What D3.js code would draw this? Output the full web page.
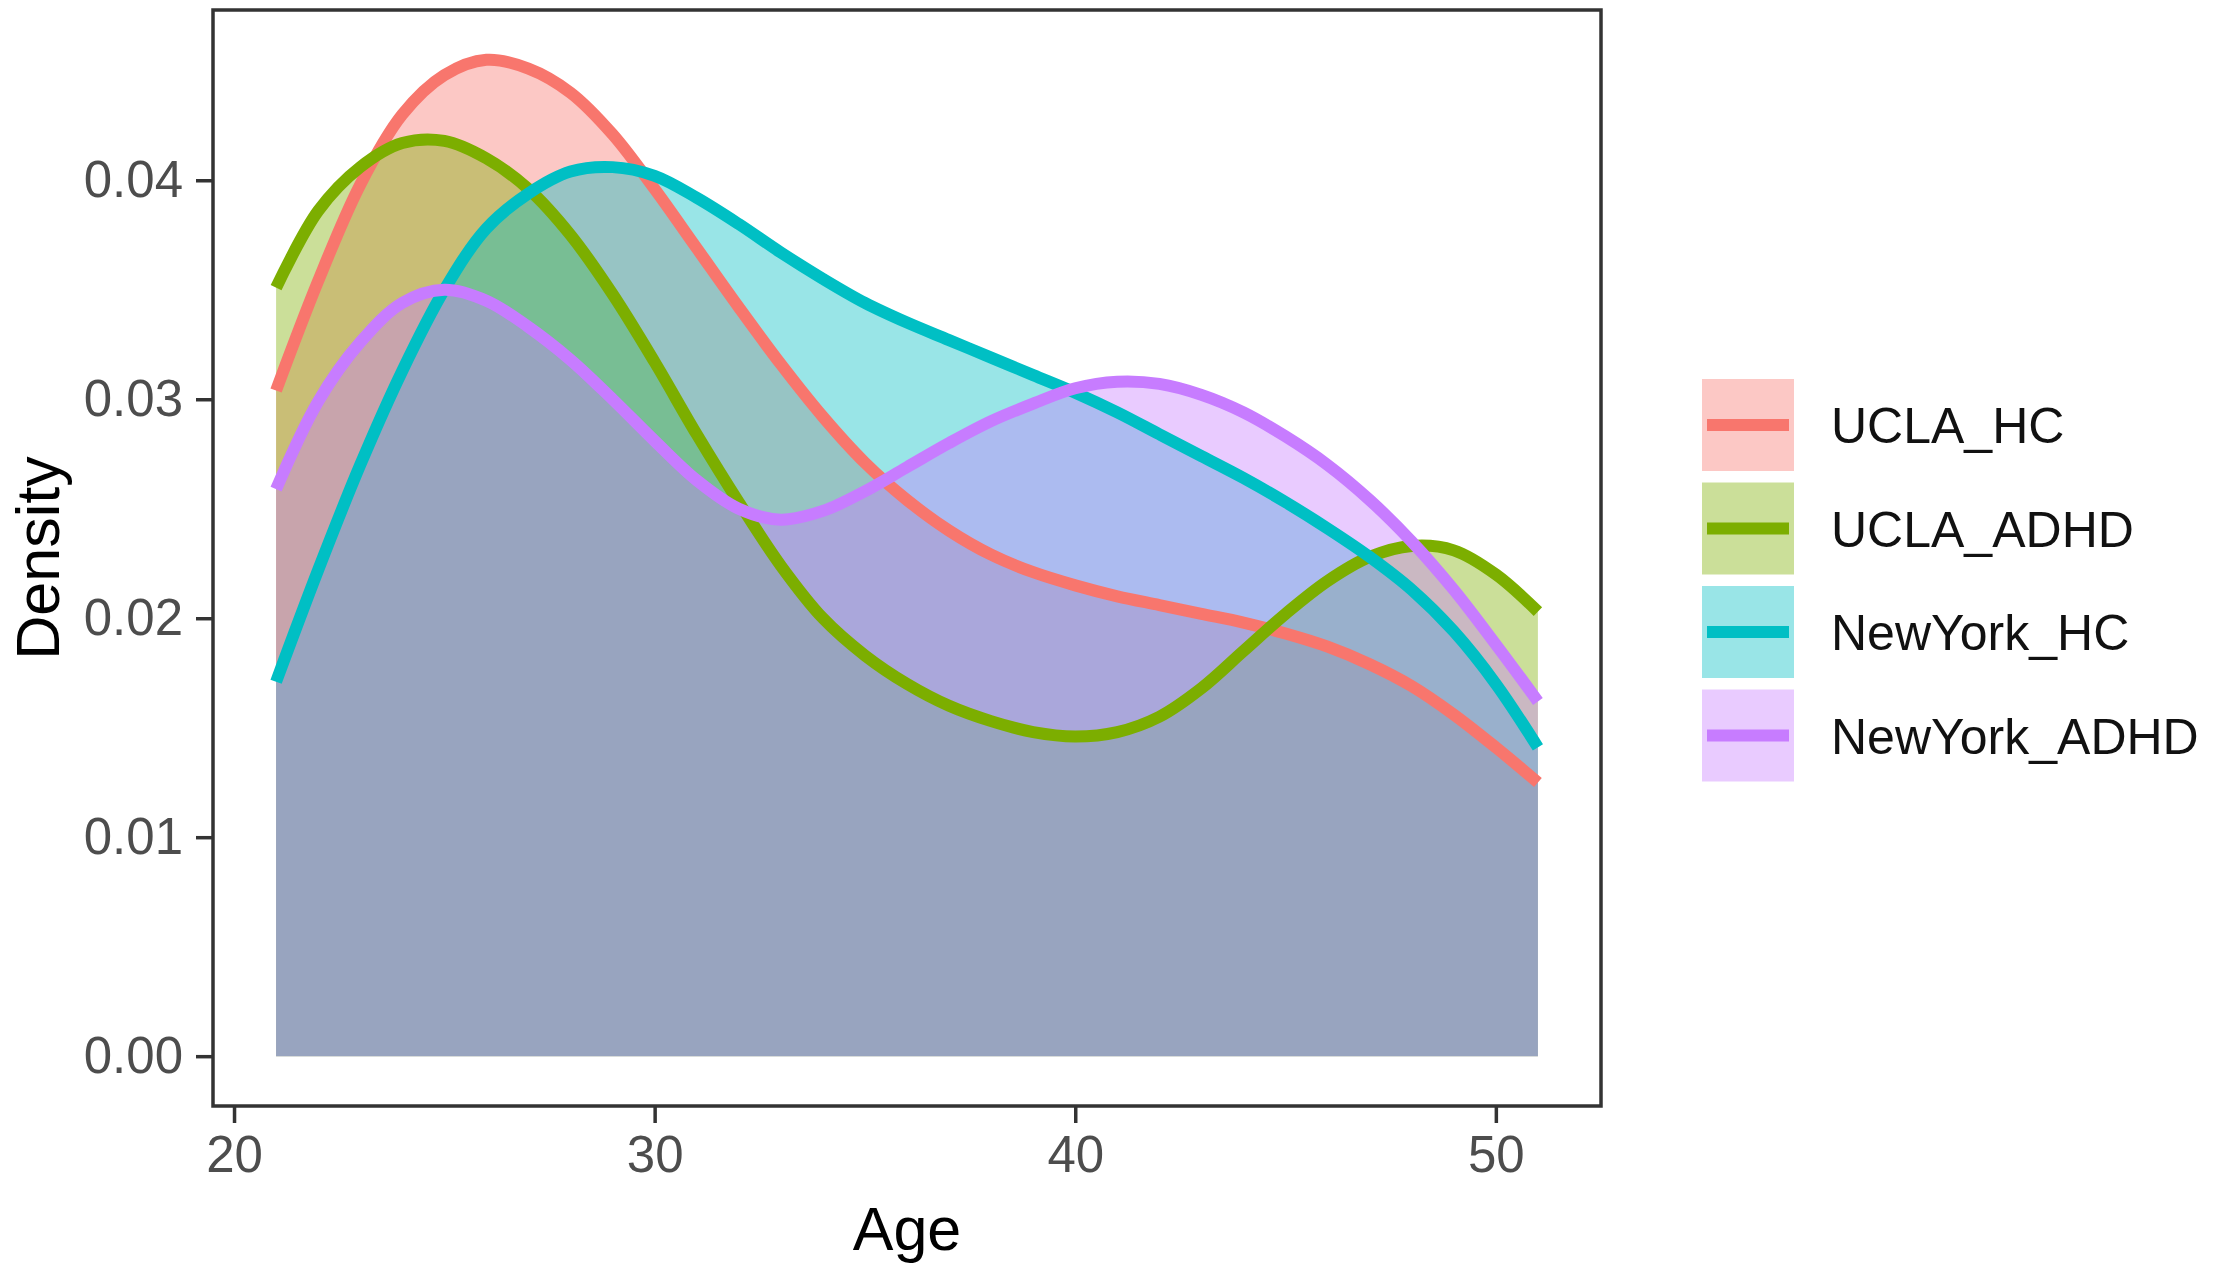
<!DOCTYPE html>
<html>
<head>
<meta charset="utf-8">
<script src="https://cdn.jsdelivr.net/npm/d3@7"></script>
<style>
	body { margin: 0; background: #ffffff; }
	text { font-family: "Liberation Sans", Arial, Helvetica, sans-serif; }
</style>
</head>
<body>
<div id="chart"></div>
<script>
var ages = d3.range(21, 52);

var groupNames = ['UCLA_HC', 'UCLA_ADHD', 'NewYork_HC', 'NewYork_ADHD'];
var groupColors = ['#F8766D', '#7CAE00', '#00BFC4', '#C77CFF'];

var uclaHC = [0.0304, 0.0354, 0.0398, 0.0430, 0.0448, 0.0455, 0.0451, 0.0440, 0.0421, 0.0396,
	0.0369, 0.0342, 0.0316, 0.0292, 0.0271, 0.0254, 0.0240, 0.0229, 0.0221, 0.0215,
	0.0210, 0.0206, 0.0202, 0.0198, 0.0193, 0.0187, 0.0179, 0.0169, 0.0156, 0.0141, 0.0125];
var uclaADHD = [0.0351, 0.0386, 0.0406, 0.0417, 0.0418, 0.0410, 0.0396, 0.0375, 0.0348, 0.0317,
	0.0284, 0.0253, 0.0224, 0.0200, 0.0183, 0.0170, 0.0160, 0.0153, 0.0148, 0.0146,
	0.0148, 0.0155, 0.0168, 0.0185, 0.0202, 0.0217, 0.0228, 0.0233, 0.0231, 0.0220, 0.0203];
var newYorkHC = [0.0171, 0.0222, 0.0270, 0.0313, 0.0350, 0.0378, 0.0394, 0.0404, 0.0406, 0.0402,
	0.0392, 0.0380, 0.0367, 0.0355, 0.0344, 0.0335, 0.0327, 0.0319, 0.0311, 0.0303,
	0.0294, 0.0284, 0.0274, 0.0264, 0.0253, 0.0241, 0.0228, 0.0213, 0.0194, 0.0170, 0.0141];
var newYorkADHD = [0.0259, 0.0299, 0.0326, 0.0344, 0.0350, 0.0345, 0.0333, 0.0318, 0.0300, 0.0281,
	0.0263, 0.0250, 0.0245, 0.0249, 0.0258, 0.0269, 0.0280, 0.0290, 0.0298, 0.0305,
	0.0308, 0.0307, 0.0302, 0.0294, 0.0283, 0.0270, 0.0254, 0.0235, 0.0213, 0.0188, 0.0162];

var xTicks = [20, 30, 40, 50];
var yTicks = [0.00, 0.01, 0.02, 0.03, 0.04];

var params = {};

function defineParams(){
	params.width = 2217;
	params.height = 1276;
	params.panel = {left: 213, top: 10, width: 1388, height: 1096};
	params.fillOpacity = 0.4;
	params.lineWidth = 12;
	params.tickLength = 17;
	params.tickColor = '#333333';
	params.labelColor = '#4D4D4D';
	params.legend = {x: 1702, y: 379, key: 92, step: 103.5, textX: 1831};

	params.series = [uclaHC, uclaADHD, newYorkHC, newYorkADHD].map(function(vals, i){
		return {
			name: groupNames[i],
			color: groupColors[i],
			values: ages.map(function(a, j){ return {age: a, density: vals[j]}; })
		};
	});
}

function createChart(){
	var p = params.panel;

	params.svg = d3.select('#chart')
		.append('svg')
			.attr('width', params.width)
			.attr('height', params.height)
			.style('display', 'block');

	params.svg.append('rect')
		.attr('width', params.width)
		.attr('height', params.height)
		.attr('fill', '#ffffff');

	// ggplot style 5% expansion on both axes
	params.xScale = d3.scaleLinear()
		.domain([19.5, 52.5])
		.range([p.left, p.left + p.width]);
	params.yScale = d3.scaleLinear()
		.domain([-0.002275, 0.047775])
		.range([p.top + p.height, p.top]);

	var area = d3.area()
		.x(function(d){ return params.xScale(d.age); })
		.y0(params.yScale(0))
		.y1(function(d){ return params.yScale(d.density); })
		.curve(d3.curveCatmullRom);

	var line = d3.line()
		.x(function(d){ return params.xScale(d.age); })
		.y(function(d){ return params.yScale(d.density); })
		.curve(d3.curveCatmullRom);

	// fills first, outlines on top
	params.svg.append('g').selectAll('path')
		.data(params.series)
		.enter()
		.append('path')
			.attr('d', function(d){ return area(d.values); })
			.attr('fill', function(d){ return d.color; })
			.attr('fill-opacity', params.fillOpacity);

	params.svg.append('g').selectAll('path')
		.data(params.series)
		.enter()
		.append('path')
			.attr('d', function(d){ return line(d.values); })
			.attr('fill', 'none')
			.attr('stroke', function(d){ return d.color; })
			.attr('stroke-width', params.lineWidth)
			.attr('stroke-linejoin', 'round');

	// panel border
	params.svg.append('rect')
		.attr('x', p.left)
		.attr('y', p.top)
		.attr('width', p.width)
		.attr('height', p.height)
		.attr('fill', 'none')
		.attr('stroke', params.tickColor)
		.attr('stroke-width', 3.5);

	// axes
	var xAxis = params.svg.append('g')
		.attr('transform', 'translate(0,' + (p.top + p.height) + ')')
		.call(d3.axisBottom(params.xScale).tickValues(xTicks).tickSize(params.tickLength).tickPadding(13));
	var yAxis = params.svg.append('g')
		.attr('transform', 'translate(' + p.left + ',0)')
		.call(d3.axisLeft(params.yScale).tickValues(yTicks).tickFormat(d3.format('.2f')).tickSize(params.tickLength).tickPadding(13));

	[xAxis, yAxis].forEach(function(ax){
		ax.select('.domain').remove();
		ax.selectAll('.tick line').attr('stroke', params.tickColor).attr('stroke-width', 3.5);
		ax.selectAll('.tick text')
			.attr('fill', params.labelColor)
			.style('font-family', '"Liberation Sans", Arial, sans-serif')
			.style('font-size', '51px');
	});

	// axis titles
	params.svg.append('text')
		.attr('x', p.left + p.width / 2)
		.attr('y', 1250)
		.attr('text-anchor', 'middle')
		.style('font-size', '61px')
		.attr('fill', '#000000')
		.text('Age');

	params.svg.append('text')
		.attr('transform', 'translate(59,' + (p.top + p.height / 2) + ') rotate(-90)')
		.attr('text-anchor', 'middle')
		.style('font-size', '61px')
		.attr('fill', '#000000')
		.text('Density');
}

function createLegend(){
	var lg = params.legend;
	var items = params.svg.append('g').selectAll('g')
		.data(params.series)
		.enter()
		.append('g')
			.attr('transform', function(d, i){ return 'translate(' + lg.x + ',' + (lg.y + i * lg.step) + ')'; });

	items.append('rect')
		.attr('width', lg.key)
		.attr('height', lg.key)
		.attr('fill', function(d){ return d.color; })
		.attr('fill-opacity', params.fillOpacity);

	items.append('line')
		.attr('x1', 5)
		.attr('x2', lg.key - 5)
		.attr('y1', lg.key / 2)
		.attr('y2', lg.key / 2)
		.attr('stroke', function(d){ return d.color; })
		.attr('stroke-width', 12);

	items.append('text')
		.attr('x', lg.textX - lg.x)
		.attr('y', lg.key / 2)
		.attr('dy', '0.36em')
		.style('font-size', '50px')
		.attr('fill', '#111111')
		.text(function(d){ return d.name; });
}

function init(){
	defineParams();
	createChart();
	createLegend();
}

init();
</script>
</body>
</html>
